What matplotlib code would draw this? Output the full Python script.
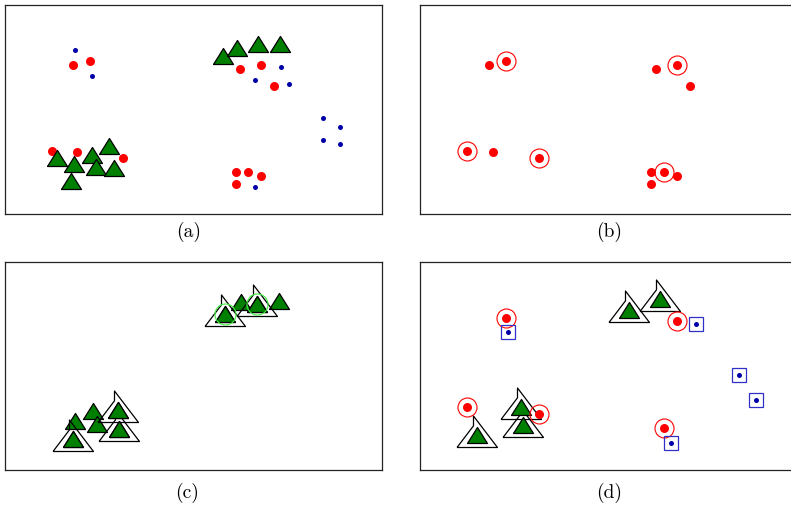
import matplotlib
matplotlib.use("Agg")
import matplotlib.pyplot as plt

# -------------------------
# Data (same plane in every panel, x: 0..377, y: 0..209)
# -------------------------

red_x = [68.8, 85.8, 235.5, 256.5, 269.5, 47.2, 72.8, 118.8, 231.2, 243.8, 256.8, 231.2]
red_y = [149.0, 153.0, 144.7, 149.0, 128.0, 63.3, 62.0, 56.3, 42.0, 42.0, 38.0, 29.7]

blue_x = [70.8, 87.8, 276.2, 250.5, 284.5, 318.5, 335.8, 318.5, 335.8, 250.5]
blue_y = [164.0, 138.3, 146.7, 134.0, 129.7, 95.7, 87.0, 74.3, 70.0, 27.3]

# triangles as they sit in each panel
tri_a_x = [218.8, 232.8, 253.8, 275.5, 52.8, 69.8, 87.2, 104.5, 91.2, 109.5, 66.5]
tri_a_y = [157.7, 166.2, 170.3, 170.3, 55.7, 49.7, 59.3, 68.3, 47.0, 46.3, 32.7]

tri_c_x = [220.5, 236.2, 252.8, 274.5, 70.5, 88.8, 92.8, 113.8, 114.5, 68.2]
tri_c_y = [156.2, 168.7, 166.5, 170.0, 49.5, 59.5, 45.7, 60.5, 41.3, 31.0]
tri_c_big = [0, 2, 7, 8, 9]     # outlined with a large triangle
tri_c_ring = [0, 2]             # light green ring

tri_d_x = [208.8, 240.2, 56.5, 100.8, 103.3]
tri_d_y = [160.4, 171.7, 35.4, 63.0, 45.5]

# picked points (b) and (d)
red_pick = [1, 3, 5, 7, 9]
blue_pick = [1, 2, 5, 8, 9]

panel_labels = ["(a)", "(b)", "(c)", "(d)"]

# -------------------------
# Styles
# -------------------------
RED = "#ff0000"
BLUE = "#0000a8"
BOX = "#3030c8"
GREEN = "#008000"
LIME = "#40f040"

TRI = [(-1, -0.8), (1, -0.8), (0, 0.8), (-1, -0.8)]
# outline triangle with the little step at its tip
BIG_TRI = [(-20.5, -12), (-4, 9.7), (-4, 19.5), (20, -12), (-20.5, -12)]

W, H = 791, 507
PX = 72 / 100  # points per pixel at dpi 100


def pick(vals, idx):
    return [vals[i] for i in idx]


def make_axes(fig, left, top, bottom, width=377):
    ax = fig.add_axes([left / W, 1 - bottom / H, width / W, (bottom - top) / H])
    ax.set_xlim(0, 377)
    ax.set_ylim(0, 209)
    ax.set_xticks([])
    ax.set_yticks([])
    for s in ax.spines.values():
        s.set_linewidth(0.9)
        s.set_color("#222222")
    return ax


def red_dots(ax, xs, ys):
    ax.plot(xs, ys, "o", ls="none", ms=9 * PX, color=RED, mec="none")


def blue_dots(ax, xs, ys):
    ax.plot(xs, ys, "o", ls="none", ms=5 * PX, color=BLUE, mec="none")


def triangles(ax, xs, ys):
    ax.plot(xs, ys, marker=TRI, ls="none", ms=20 * PX, mfc=GREEN,
            mec="black", mew=0.9)


def big_triangles(ax, xs, ys):
    ax.plot(xs, ys, marker=BIG_TRI, ls="none", ms=41 * PX, mfc="none",
            mec="black", mew=0.9)


def rings(ax, xs, ys, color, size):
    ax.plot(xs, ys, "o", ls="none", ms=size * PX, mfc="none", mec=color, mew=0.8)


def boxes(ax, xs, ys):
    ax.plot(xs, ys, "s", ls="none", ms=13.5 * PX, mfc="none", mec=BOX, mew=0.9)


fig = plt.figure(figsize=(W / 100, H / 100), dpi=100)

ax_a = make_axes(fig, 4.5, 5, 214)
ax_b = make_axes(fig, 420, 5, 214)
ax_c = make_axes(fig, 4.5, 261.7, 470)
ax_d = make_axes(fig, 420, 261.7, 470)

# (a) all points
blue_dots(ax_a, blue_x, blue_y)
red_dots(ax_a, red_x, red_y)
triangles(ax_a, tri_a_x, tri_a_y)

# (b) red class, picked ones ringed
red_dots(ax_b, red_x, red_y)
rings(ax_b, pick(red_x, red_pick), pick(red_y, red_pick), RED, 19)

# (c) triangle class, picked ones outlined
triangles(ax_c, tri_c_x, tri_c_y)
big_triangles(ax_c, pick(tri_c_x, tri_c_big), pick(tri_c_y, tri_c_big))
triangles(ax_c, pick(tri_c_x, tri_c_big), pick(tri_c_y, tri_c_big))
rings(ax_c, pick(tri_c_x, tri_c_ring), pick(tri_c_y, tri_c_ring), LIME, 21)

# (d) picked points of all classes
big_triangles(ax_d, tri_d_x, tri_d_y)
triangles(ax_d, tri_d_x, tri_d_y)
red_dots(ax_d, pick(red_x, red_pick), pick(red_y, red_pick))
rings(ax_d, pick(red_x, red_pick), pick(red_y, red_pick), RED, 19)
blue_dots(ax_d, pick(blue_x, blue_pick), pick(blue_y, blue_pick))
boxes(ax_d, pick(blue_x, blue_pick), pick(blue_y, blue_pick))

# captions under each panel
label_pos = [(188.3, 232), (609, 232), (187.5, 492.5), (609.5, 492.5)]
for lab, (lx, ly) in zip(panel_labels, label_pos):
    fig.text(lx / W, 1 - ly / H, lab, ha="center", va="center",
             fontsize=14, family="cmr10")

fig.savefig("out.png", dpi=100)
